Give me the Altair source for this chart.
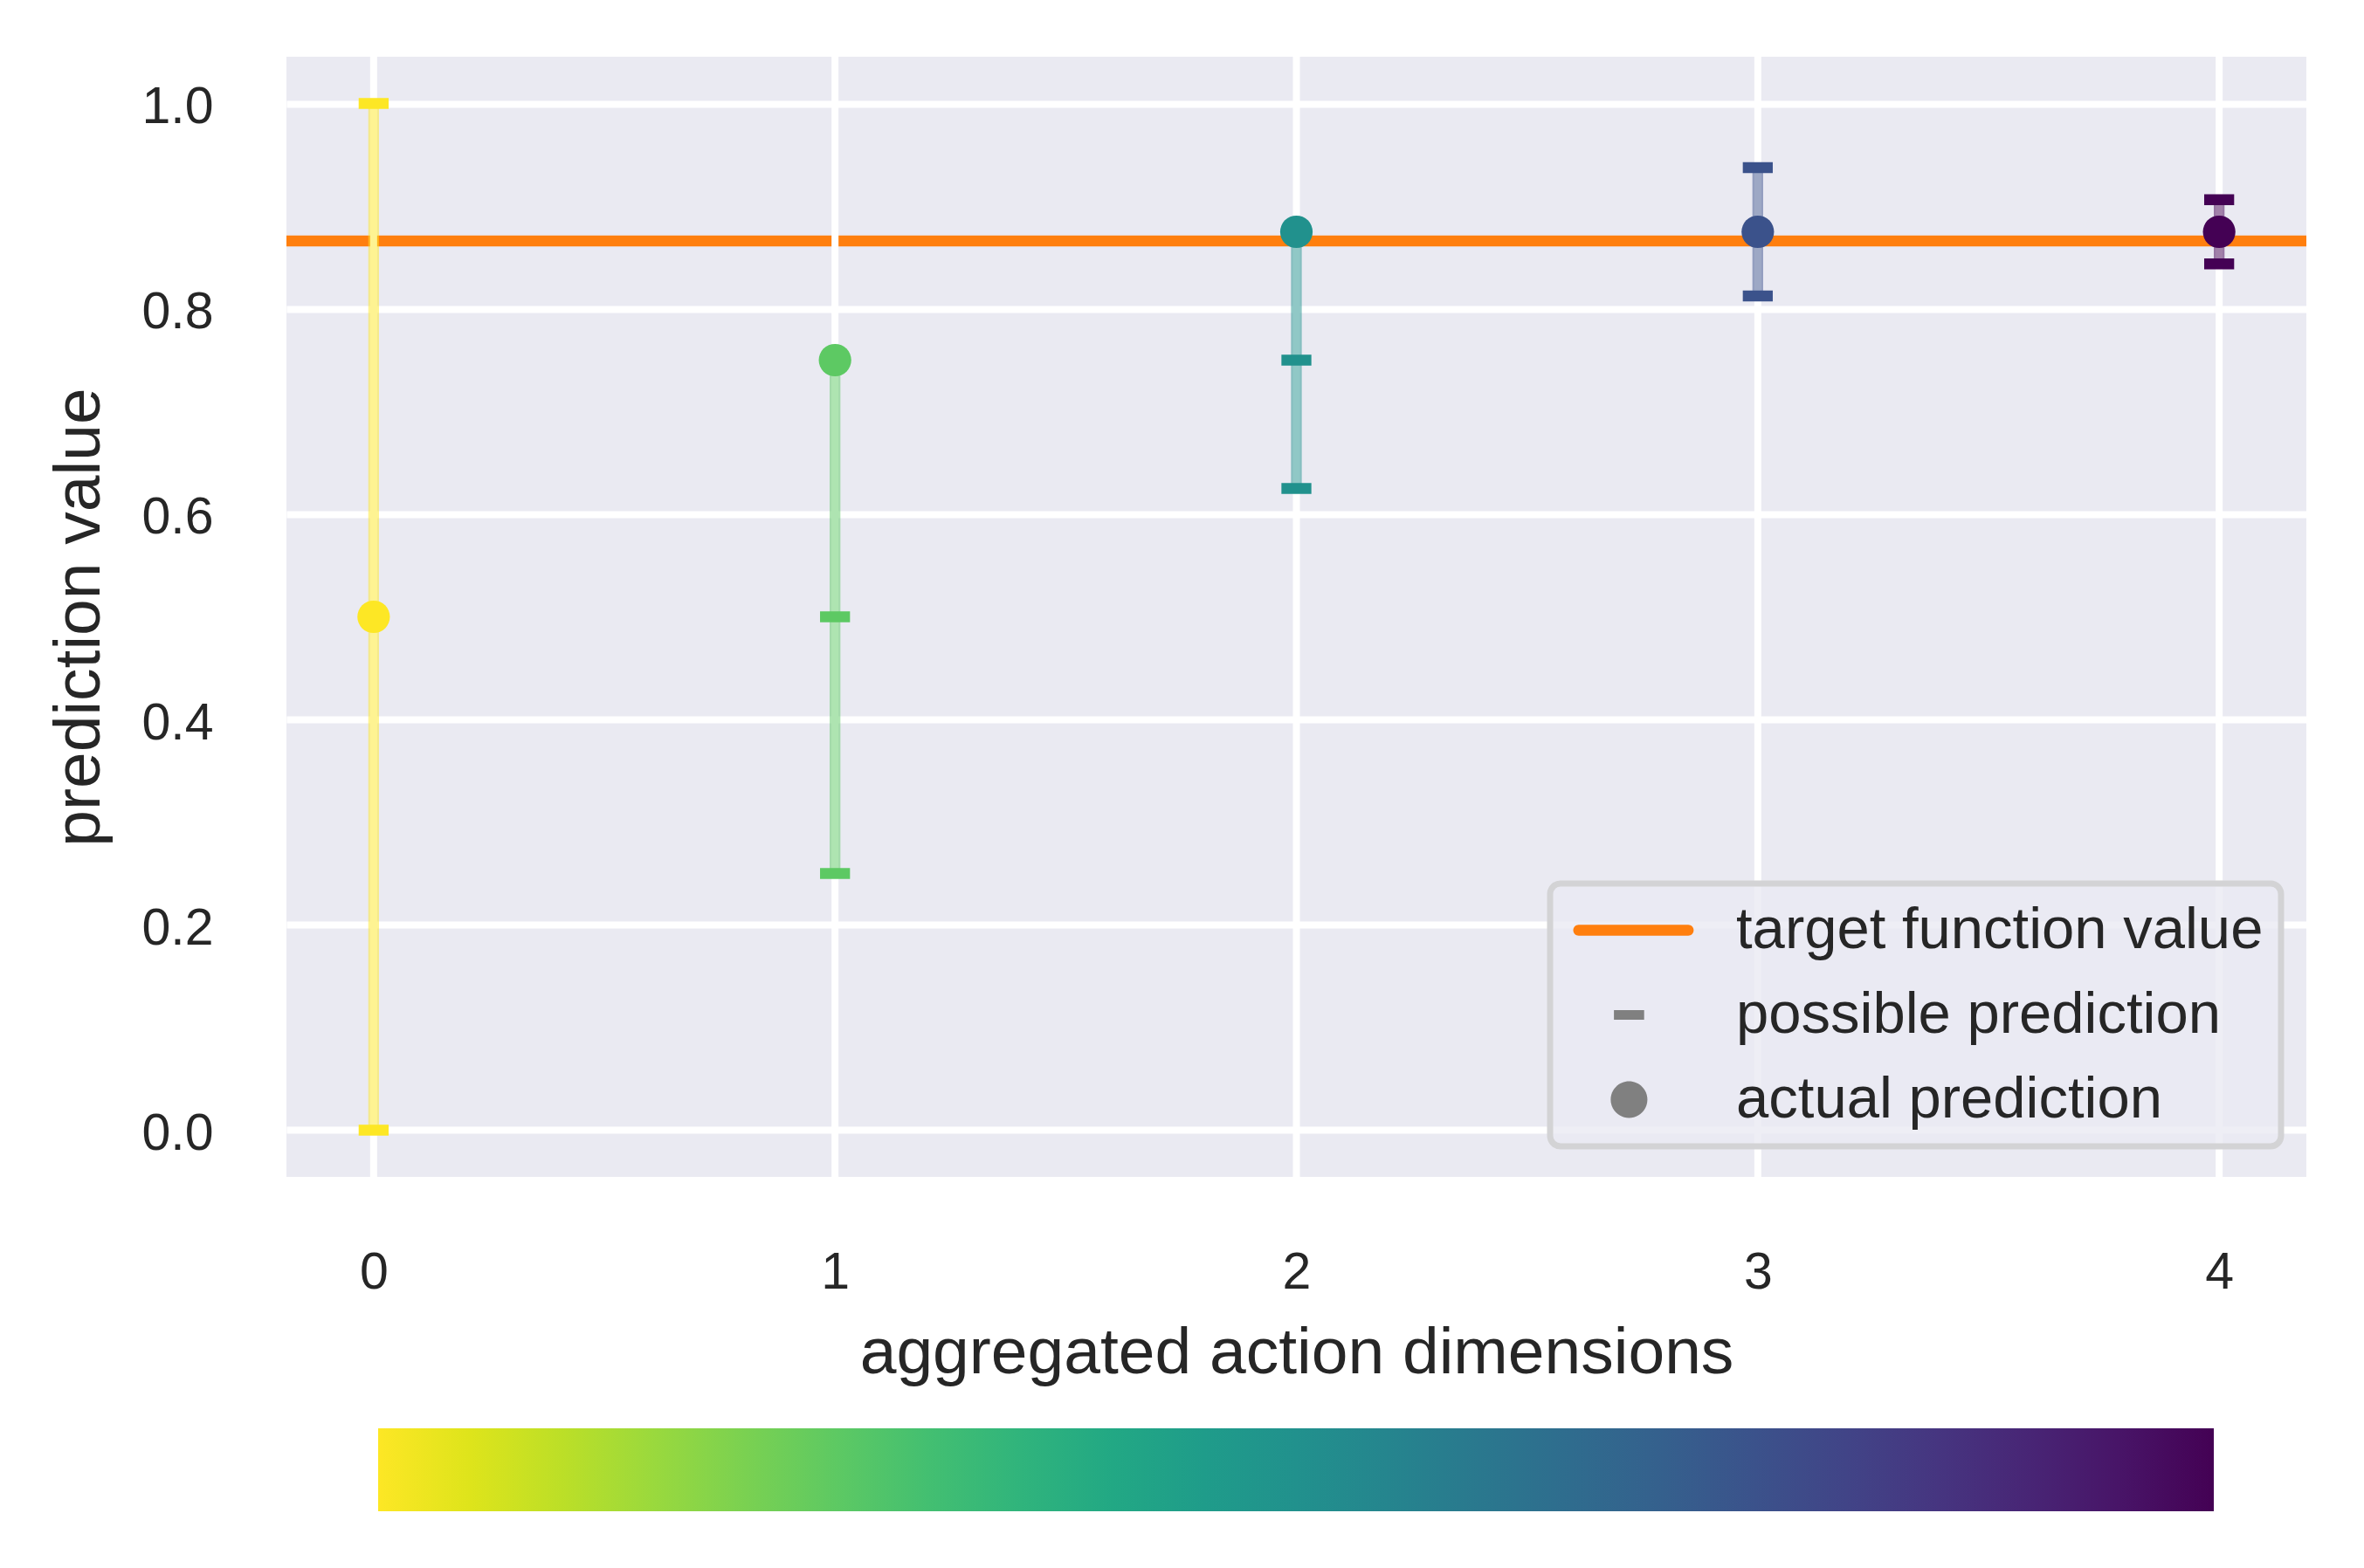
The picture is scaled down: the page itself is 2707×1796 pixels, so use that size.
import altair as alt
import pandas as pd

# ---------------- data ----------------
dims = [0, 1, 2, 3, 4]
actual_prediction = [0.5, 0.75, 0.875, 0.875, 0.875]
possible_predictions = [
    [0.0, 1.0],
    [0.25, 0.5],
    [0.625, 0.75],
    [0.8125, 0.9375],
    [0.84375, 0.90625],
]
target_value = 0.866
x_ticks = [0, 1, 2, 3, 4]
y_ticks = [0.0, 0.2, 0.4, 0.6, 0.8, 1.0]
legend_labels = ["target function value", "possible prediction", "actual prediction"]
legend_colors = ["#ff7f0e", "#808080", "#808080"]

# ---------------- tables ----------------
bar_df = pd.DataFrame({
    "dim": dims,
    "lo": [min(p + [a]) for p, a in zip(possible_predictions, actual_prediction)],
    "hi": [max(p + [a]) for p, a in zip(possible_predictions, actual_prediction)],
})
cap_df = pd.DataFrame(
    [{"dim": d, "value": v} for d, p in zip(dims, possible_predictions) for v in p]
)
pt_df = pd.DataFrame({"dim": dims, "actual": actual_prediction})
target_df = pd.DataFrame({"target": [target_value]})
grid_df = pd.DataFrame({"tick": x_ticks})
leg_df = pd.DataFrame({"label": legend_labels, "yv": [float("nan")] * len(legend_labels)})

# ---------------- style ----------------
FONT = "Liberation Sans"
TXT = "#262626"
xs = alt.Scale(domain=[-0.189, 4.189], nice=False, zero=False)
ys = alt.Scale(domain=[-0.0455, 1.0455], nice=False, zero=False)

x_axis = alt.Axis(
    values=x_ticks, format="d", grid=False, ticks=False, tickSize=0, domain=False,
    labelFontSize=59, labelPadding=127, labelBaseline="alphabetic", labelFlush=False,
    labelColor=TXT, labelFont=FONT,
    title="aggregated action dimensions", titleFontSize=75, titleFont=FONT,
    titleColor=TXT, titleFontWeight="normal", titleBaseline="alphabetic",
    titleX=1156.5, titleY=224,
)
y_axis = alt.Axis(
    values=y_ticks, format=".1f", grid=True, gridColor="white", gridWidth=8,
    ticks=False, tickSize=0, domain=False,
    labelFontSize=59, labelPadding=84, labelBaseline="alphabetic", labelOffset=22,
    labelFlush=False, labelColor=TXT, labelFont=FONT,
    title="prediction value", titleFontSize=75, titleFont=FONT, titleColor=TXT,
    titleFontWeight="normal", titleAngle=270, titleBaseline="alphabetic",
    titleAlign="center", titleX=-215, titleY=641.5,
)

cscale = alt.Scale(scheme="viridis", reverse=True, domain=[0, 4])
color_nolegend = alt.Color("dim:Q", scale=cscale, legend=None)
color_bar = alt.Color(
    "dim:Q", scale=cscale,
    legend=alt.Legend(
        orient="none", direction="horizontal", legendX=105, legendY=1571,
        gradientLength=2102, gradientThickness=95, labelOpacity=0, labelFontSize=1,
        title=None, padding=0, gradientStrokeWidth=0,
    ),
)

# legend symbols (custom paths, 1 unit = 18 px with symbolSize 1296)
path_line = ("M-1.156,-0.344L5.816,-0.344A0.344,0.344,0,0,1,5.816,0.344"
             "L-1.156,0.344A0.344,0.344,0,0,1,-1.156,-0.344Z")
path_dash = "M1.089,-0.306L3.011,-0.306L3.011,0.306L1.089,0.306Z"
path_dot = "M0.883,0A1.167,1.167,0,1,1,3.217,0A1.167,1.167,0,1,1,0.883,0Z"

sym_legend = alt.Legend(
    title=None, orient="none", legendX=1447, legendY=947,
    symbolSize=1296, symbolStrokeWidth=0, symbolOpacity=1,
    labelFontSize=67, labelFont=FONT, labelColor=TXT, labelOffset=126,
    rowPadding=29, padding=20, fillColor="rgba(234,234,242,0.8)",
    strokeColor="#d3d3d5", cornerRadius=12, labelLimit=2000,
)

# ---------------- layers ----------------
target_layer = alt.Chart(target_df).mark_rule(color="#ff7f0e", strokeWidth=12.5).encode(
    y=alt.Y("target:Q", scale=ys, axis=y_axis)
)
vgrid = alt.Chart(grid_df).mark_rule(color="white", strokeWidth=8).encode(
    x=alt.X("tick:Q", scale=xs, axis=x_axis)
)
bars = alt.Chart(bar_df).mark_rule(strokeWidth=12.3, strokeOpacity=0.5).encode(
    x=alt.X("dim:Q", scale=xs, axis=x_axis),
    y=alt.Y("lo:Q", scale=ys, axis=y_axis),
    y2="hi:Q",
    color=color_nolegend,
)
caps = alt.Chart(cap_df).mark_tick(orient="horizontal", size=34.3, thickness=12.7, opacity=1).encode(
    x=alt.X("dim:Q", scale=xs, axis=x_axis),
    y=alt.Y("value:Q", scale=ys, axis=y_axis),
    color=color_nolegend,
)
points = alt.Chart(pt_df).mark_circle(size=1385, opacity=1).encode(
    x=alt.X("dim:Q", scale=xs, axis=x_axis),
    y=alt.Y("actual:Q", scale=ys, axis=y_axis),
    color=color_bar,
)
leg_layer = alt.Chart(leg_df).mark_point(filled=True).encode(
    x=alt.X("yv:Q", scale=xs, axis=x_axis),
    y=alt.Y("yv:Q", scale=ys, axis=y_axis),
    color=alt.Color("label:N", scale=alt.Scale(domain=legend_labels, range=legend_colors),
                    legend=sym_legend),
    shape=alt.Shape("label:N", scale=alt.Scale(domain=legend_labels,
                                               range=[path_line, path_dash, path_dot]),
                    legend=sym_legend),
)

chart = (
    alt.layer(target_layer, vgrid, bars, caps, points, leg_layer)
    .resolve_scale(color="independent", shape="independent")
    .properties(
        width=2313, height=1283,
        padding={"left": 320, "top": 57, "right": 50, "bottom": 430},
        autosize=alt.AutoSizeParams(type="none"),
        background="white",
    )
    .configure_view(strokeWidth=0, fill="#eaeaf2")
    .configure_legend(strokeWidth=7)
)

chart.save("out.html", embed_options={"renderer": "svg", "actions": False})
